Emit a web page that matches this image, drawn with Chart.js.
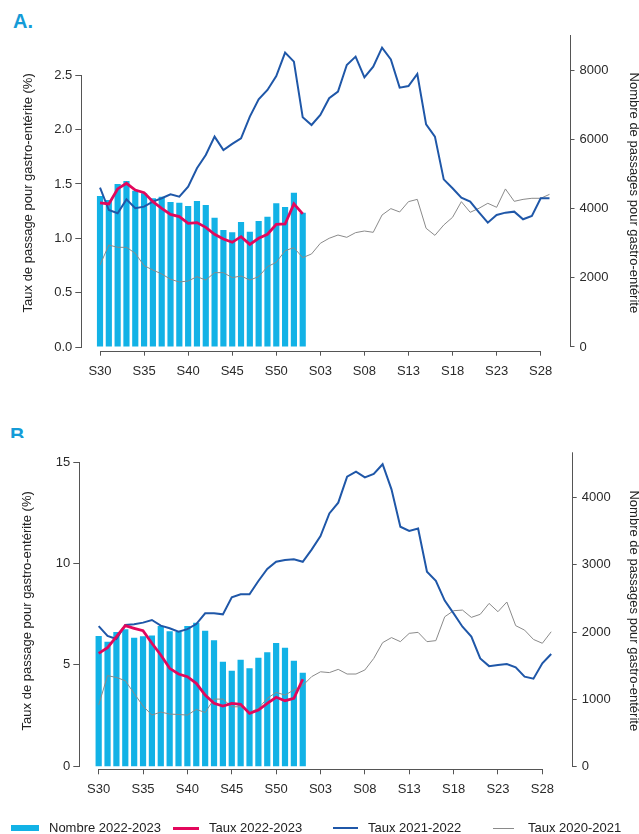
<!DOCTYPE html>
<html lang="fr">
<head>
<meta charset="utf-8">
<title>Passages aux urgences pour gastro-entérite</title>
<script src="https://cdn.jsdelivr.net/npm/chart.js@4.4.1/dist/chart.umd.min.js"></script>
<style>
  html, body { margin: 0; padding: 0; background: #fff; }
  body { width: 639px; height: 834px; position: relative; overflow: hidden;
         font-family: "Liberation Sans", Arial, Helvetica, sans-serif; color: #222; }
  .panel { position: absolute; left: 0; width: 639px; }
  #panelA { top: 0; height: 395px; }
  #panelB { top: 420px; height: 400px; }
  .tag { position: absolute; font-weight: bold; font-size: 20px; line-height: 20px; color: #149bd7; overflow: hidden; }
  #tagA { left: 13px; top: 11px; height: 24px; }
  #tagB { left: 10px; top: 425px; height: 13px; }
  .legend-item { position: absolute; top: 819px; font-size: 13px; line-height: 17px; color: #222; white-space: nowrap; }
  .swatch { position: absolute; }
</style>
</head>
<body>
<div id="tagA" class="tag">A.</div>
<div id="panelA" class="panel"><canvas id="chartA"></canvas></div>
<div id="tagB" class="tag">B.</div>
<div id="panelB" class="panel"><canvas id="chartB"></canvas></div>

<div class="swatch" style="left:11px;top:825px;width:28px;height:6px;background:#12b2e6"></div>
<div class="legend-item" style="left:49px">Nombre 2022-2023</div>
<div class="swatch" style="left:173px;top:826.5px;width:26px;height:3px;background:#e3075c"></div>
<div class="legend-item" style="left:209px">Taux 2022-2023</div>
<div class="swatch" style="left:333px;top:827px;width:25px;height:2px;background:#1f57a8"></div>
<div class="legend-item" style="left:368px">Taux 2021-2022</div>
<div class="swatch" style="left:493px;top:827.5px;width:21px;height:1px;background:#8a8a8a"></div>
<div class="legend-item" style="left:528px">Taux 2020-2021</div>

<script>
// Semaines S30 (2022) -> S29 (2023)
const weeks = [
  "S30", "S31", "S32", "S33", "S34", "S35", "S36", "S37", "S38", "S39", "S40", "S41",
  "S42", "S43", "S44", "S45", "S46", "S47", "S48", "S49", "S50", "S51", "S52", "S01",
  "S02", "S03", "S04", "S05", "S06", "S07", "S08", "S09", "S10", "S11", "S12", "S13",
  "S14", "S15", "S16", "S17", "S18", "S19", "S20", "S21", "S22", "S23", "S24", "S25",
  "S26", "S27", "S28", "S29"
];
const weekTicks = ["S30", "S35", "S40", "S45", "S50", "S03", "S08", "S13", "S18", "S23", "S28"];

// A. nombre de passages (axe droit) et taux (axe gauche, %)
const countA = [4364, 4249, 4711, 4798, 4518, 4441, 4297, 4345, 4191, 4171, 4075, 4220,
  4104, 3738, 3382, 3314, 3613, 3333, 3642, 3767, 4152, 4046, 4461, 3882];
const rateA2223 = [1.325, 1.316, 1.454, 1.506, 1.444, 1.420, 1.337, 1.276, 1.220, 1.199, 1.138, 1.144,
  1.101, 1.037, 0.994, 0.963, 1.015, 0.944, 1.000, 1.037, 1.128, 1.132, 1.316, 1.224];
const rateA2122 = [1.466, 1.260, 1.230, 1.358, 1.276, 1.291, 1.337, 1.368, 1.404, 1.383, 1.475, 1.644,
  1.766, 1.935, 1.812, 1.868, 1.920, 2.119, 2.278, 2.364, 2.493, 2.708, 2.625, 2.113,
  2.042, 2.134, 2.288, 2.349, 2.594, 2.671, 2.481, 2.579, 2.754, 2.646, 2.386, 2.401,
  2.511, 2.048, 1.935, 1.542, 1.460, 1.374, 1.337, 1.239, 1.144, 1.214, 1.236, 1.245,
  1.175, 1.205, 1.368, 1.368];
const rateA2021 = [0.754, 0.938, 0.917, 0.917, 0.862, 0.748, 0.708, 0.672, 0.623, 0.598, 0.607, 0.647,
  0.616, 0.684, 0.684, 0.638, 0.653, 0.616, 0.647, 0.739, 0.779, 0.886, 0.914, 0.822,
  0.856, 0.954, 1.000, 1.030, 1.009, 1.052, 1.067, 1.055, 1.214, 1.273, 1.242, 1.337,
  1.358, 1.092, 1.027, 1.122, 1.193, 1.337, 1.239, 1.276, 1.322, 1.285, 1.454, 1.340,
  1.358, 1.368, 1.368, 1.404];
const rateTicksA = [0, 0.5, 1, 1.5, 2, 2.5];
const countTicksA = [0, 2000, 4000, 6000, 8000];

// B.
const countB = [1941, 1856, 2000, 2040, 1916, 1936, 1950, 2089, 2010, 2000, 2089, 2139,
  2020, 1876, 1559, 1426, 1589, 1460, 1619, 1698, 1837, 1767, 1574, 1396];
const rateB2223 = [5.57, 5.85, 6.40, 6.94, 6.81, 6.69, 6.07, 5.49, 4.83, 4.55, 4.42, 4.09,
  3.51, 3.10, 2.97, 3.10, 3.05, 2.60, 2.77, 3.10, 3.40, 3.23, 3.35, 4.29];
const rateB2122 = [6.92, 6.43, 6.28, 6.97, 7.01, 7.09, 7.22, 6.94, 6.81, 6.64, 6.77, 7.02,
  7.55, 7.55, 7.50, 8.34, 8.49, 8.49, 9.15, 9.74, 10.10, 10.19, 10.22, 10.10,
  10.70, 11.37, 12.49, 13.02, 14.31, 14.55, 14.27, 14.44, 14.92, 13.68, 11.83, 11.62,
  11.74, 9.61, 9.16, 8.18, 7.55, 6.89, 6.40, 5.32, 4.94, 4.99, 5.04, 4.88,
  4.42, 4.32, 5.08, 5.54];
const rateB2021 = [3.02, 4.47, 4.38, 4.22, 3.59, 2.97, 2.52, 2.67, 2.57, 2.55, 2.52, 2.80,
  2.65, 3.31, 3.31, 2.93, 2.93, 2.65, 2.85, 3.35, 3.64, 3.51, 3.76, 3.98,
  4.42, 4.66, 4.62, 4.78, 4.55, 4.55, 4.75, 5.32, 6.10, 6.35, 6.15, 6.56,
  6.61, 6.15, 6.20, 7.38, 7.68, 7.71, 7.35, 7.50, 8.04, 7.63, 8.11, 6.94,
  6.72, 6.26, 6.07, 6.64];
const rateTicksB = [0, 5, 10, 15];
const countTicksB = [0, 1000, 2000, 3000, 4000];

const COLORS = {
  bars: "#12b2e6",
  rate2223: "#e3075c",
  rate2122: "#1f57a8",
  rate2021: "#8a8a8a",
  axis: "#555",
  text: "#2a2a2a",
};

Chart.defaults.font.family = '"Liberation Sans", Arial, Helvetica, sans-serif';
Chart.defaults.font.size = 13;
Chart.defaults.color = COLORS.text;

const toPoints = (values) => values.map((v, i) => ({ x: i, y: v }));
const fixedTicks = (values) => (scale) => { scale.ticks = values.map((v) => ({ value: v })); };

// R-style axis lines: only from the first to the last tick (right axis up to the top)
const partialAxes = {
  id: "partialAxes",
  afterDraw(chart, args, opts) {
    const { ctx, chartArea, scales } = chart;
    const xLast = weeks.indexOf(weekTicks[weekTicks.length - 1]);
    ctx.save();
    ctx.strokeStyle = COLORS.axis;
    ctx.lineWidth = 1;
    ctx.beginPath();
    const yb = Math.round(chartArea.bottom) + 0.5;
    ctx.moveTo(scales.x.getPixelForValue(0), yb);
    ctx.lineTo(scales.x.getPixelForValue(xLast), yb);
    const xl = Math.round(chartArea.left) - 0.5;
    ctx.moveTo(xl, scales.y.getPixelForValue(0));
    ctx.lineTo(xl, scales.y.getPixelForValue(opts.leftTop));
    const xr = Math.round(chartArea.right) + 0.5;
    ctx.moveTo(xr, scales.yR.getPixelForValue(0));
    ctx.lineTo(xr, chartArea.top);
    ctx.stroke();
    ctx.restore();
  },
};

function makeChart(canvasId, cfg) {
  const tickGrid = (len) => ({
    display: true, drawOnChartArea: false, drawTicks: true, tickLength: len,
    color: COLORS.axis, offset: false,
  });
  return new Chart(document.getElementById(canvasId), {
    type: "bar",
    data: {
      datasets: [
        {
          type: "line", label: "Taux 2022-2023", data: toPoints(cfg.rate2223), yAxisID: "y",
          borderColor: COLORS.rate2223, borderWidth: 2.8, pointRadius: 0, tension: 0, order: 1,
        },
        {
          type: "line", label: "Taux 2021-2022", data: toPoints(cfg.rate2122), yAxisID: "y",
          borderColor: COLORS.rate2122, borderWidth: 2, pointRadius: 0, tension: 0, order: 2,
        },
        {
          type: "line", label: "Taux 2020-2021", data: toPoints(cfg.rate2021), yAxisID: "y",
          borderColor: COLORS.rate2021, borderWidth: 1, pointRadius: 0, tension: 0, order: 3,
        },
        {
          type: "bar", label: "Nombre 2022-2023", data: toPoints(cfg.count), yAxisID: "yR",
          backgroundColor: COLORS.bars, borderWidth: 0,
          barPercentage: 0.7, categoryPercentage: 1, order: 4,
        },
      ],
    },
    options: {
      responsive: true,
      maintainAspectRatio: false,
      animation: false,
      events: [],
      layout: { padding: { top: cfg.padTop, left: 0, right: 0, bottom: 0 } },
      plugins: {
        legend: { display: false },
        tooltip: { enabled: false },
        partialAxes: { leftTop: cfg.rateTicks[cfg.rateTicks.length - 1] },
      },
      scales: {
        x: {
          type: "linear", position: "bottom", offset: false,
          min: cfg.xMin, max: cfg.xMax,
          afterBuildTicks: fixedTicks(weekTicks.map((w) => weeks.indexOf(w))),
          afterFit: (s) => { s.height = cfg.xHeight; },
          grid: tickGrid(5),
          border: { display: false },
          ticks: { autoSkip: false, maxRotation: 0, padding: 7.5, color: COLORS.text,
                   callback: (v) => weeks[v] },
        },
        y: {
          type: "linear", position: "left",
          min: cfg.yMin, max: cfg.yMax,
          afterBuildTicks: fixedTicks(cfg.rateTicks),
          afterFit: (s) => { s.width = cfg.leftWidth; },
          grid: tickGrid(7),
          border: { display: false },
          ticks: { padding: 3, color: COLORS.text, callback: cfg.rateLabel },
          title: {
            display: true, text: "Taux de passage pour gastro-entérite (%)",
            color: "#222", font: { size: 13 }, padding: { top: cfg.leftTitlePad, bottom: 0 },
          },
        },
        yR: {
          type: "linear", position: "right",
          min: cfg.rMin, max: cfg.rMax,
          afterBuildTicks: fixedTicks(cfg.countTicks),
          afterFit: (s) => { s.width = cfg.rightWidth; },
          grid: tickGrid(5),
          border: { display: false },
          ticks: { padding: 5, color: COLORS.text, callback: (v) => String(v) },
          title: {
            display: true, text: "Nombre de passages pour gastro-entérite",
            color: "#222", font: { size: 13, lineHeight: 1 }, padding: { top: -1, bottom: 0 },
          },
        },
      },
    },
    plugins: [partialAxes],
  });
}

makeChart("chartA", {
  count: countA, rate2223: rateA2223, rate2122: rateA2122, rate2021: rateA2021,
  rateTicks: rateTicksA, countTicks: countTicksA,
  rateLabel: (v) => v.toFixed(1),
  padTop: 35, xHeight: 44.3, leftWidth: 82.3, rightWidth: 69.5,
  xMin: -2.01, xMax: 53.27,
  yMin: -0.034, yMax: 2.87, rMin: -107, rMax: 9017,
  leftTitlePad: 21,
});

makeChart("chartB", {
  count: countB, rate2223: rateB2223, rate2122: rateB2122, rate2021: rateB2021,
  rateTicks: rateTicksB, countTicks: countTicksB,
  rateLabel: (v) => String(v),
  padTop: 32.3, xHeight: 50.7, leftWidth: 80.3, rightWidth: 67.3,
  xMin: -2.07, xMax: 53.31,
  yMin: -0.16, yMax: 15.51, rMin: -39, rMax: 4669,
  leftTitlePad: 19.5,
});
</script>
</body>
</html>
